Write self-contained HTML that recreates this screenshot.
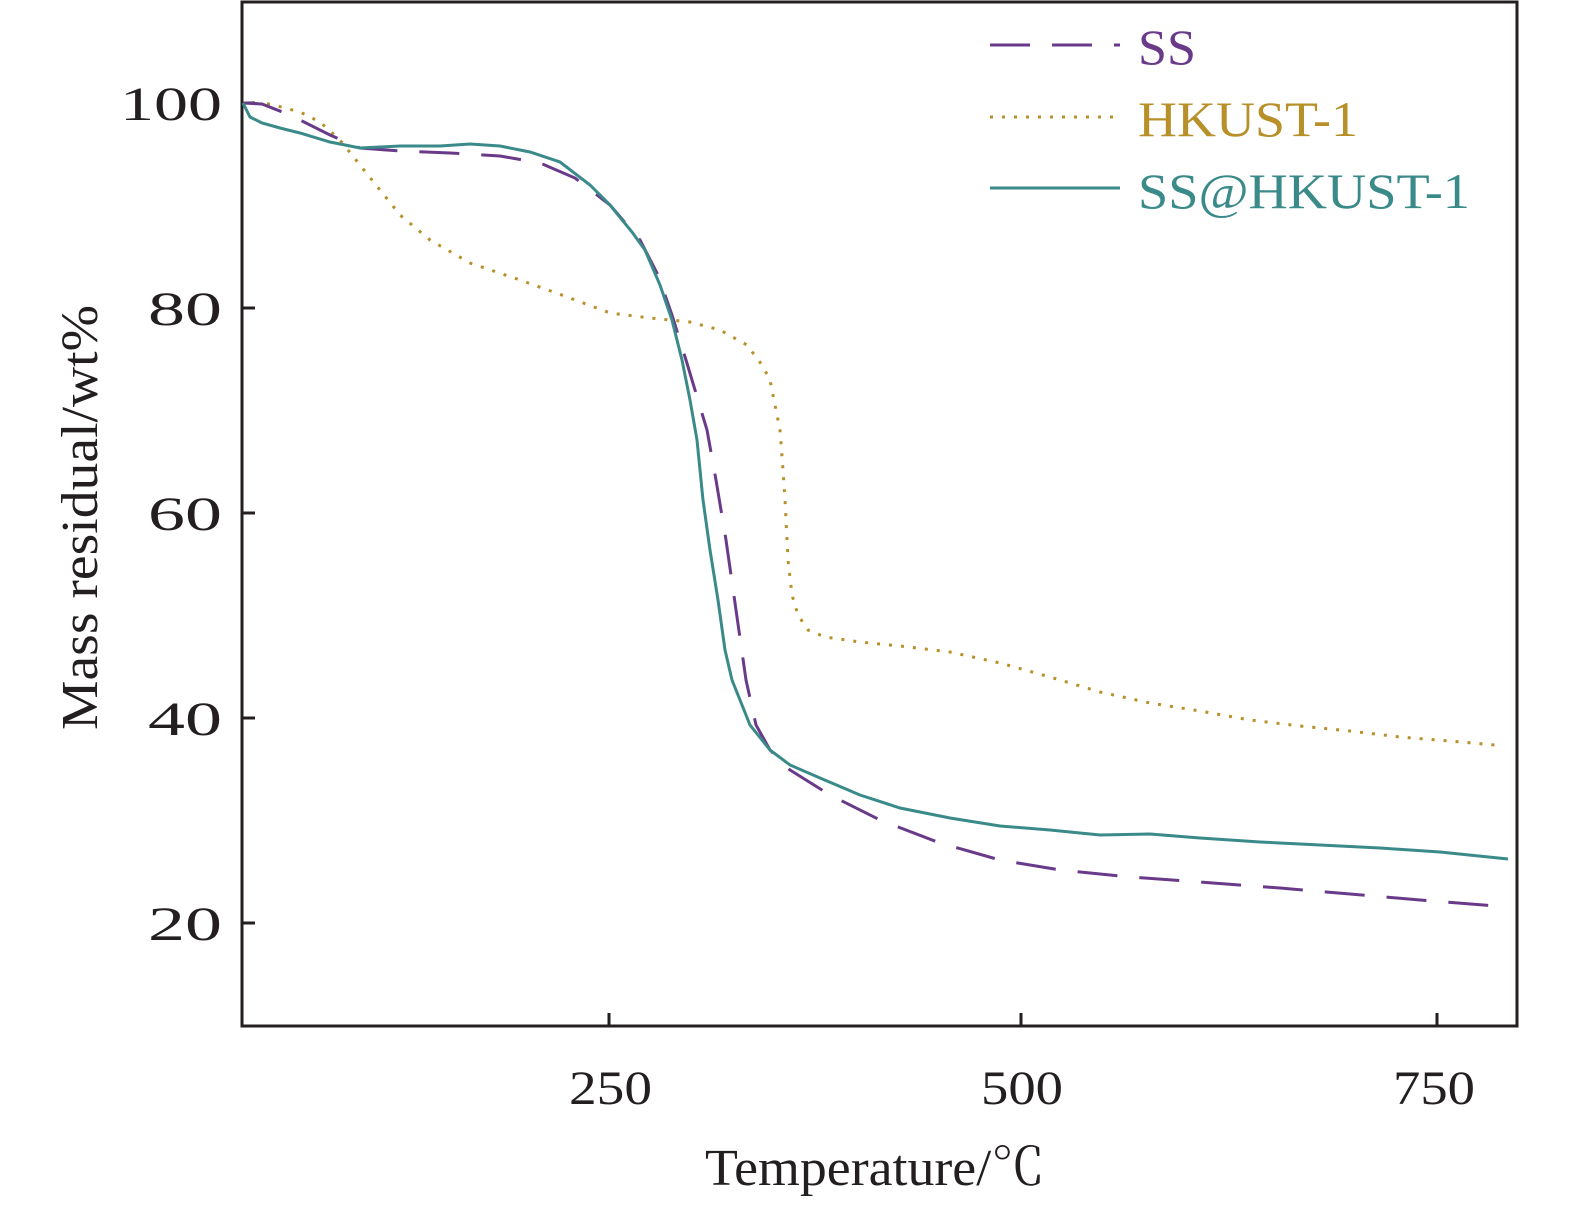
<!DOCTYPE html>
<html><head><meta charset="utf-8"><style>
html,body{margin:0;padding:0;background:#fff;}
svg text{font-family:"Liberation Serif","Noto Serif CJK SC",serif;}
</style></head><body>
<svg width="1575" height="1208" viewBox="0 0 1575 1208" xmlns="http://www.w3.org/2000/svg">
<rect x="242" y="2" width="1275" height="1024" fill="none" stroke="#231f20" stroke-width="3"/>
<g stroke="#231f20" stroke-width="3">
<line x1="609" y1="1026" x2="609" y2="1013"/>
<line x1="1021" y1="1026" x2="1021" y2="1013"/>
<line x1="1437" y1="1026" x2="1437" y2="1013"/>
<line x1="242" y1="103" x2="255" y2="103"/>
<line x1="242" y1="308" x2="255" y2="308"/>
<line x1="242" y1="513" x2="255" y2="513"/>
<line x1="242" y1="718" x2="255" y2="718"/>
<line x1="242" y1="923" x2="255" y2="923"/>
</g>
<g font-size="48" fill="#231f20" lengthAdjust="spacingAndGlyphs">
<text x="120" y="120" textLength="102" lengthAdjust="spacingAndGlyphs">100</text>
<text x="148" y="325" textLength="74" lengthAdjust="spacingAndGlyphs">80</text>
<text x="148" y="530" textLength="74" lengthAdjust="spacingAndGlyphs">60</text>
<text x="148" y="735" textLength="74" lengthAdjust="spacingAndGlyphs">40</text>
<text x="148" y="940" textLength="74" lengthAdjust="spacingAndGlyphs">20</text>
<text x="569" y="1104" textLength="83" lengthAdjust="spacingAndGlyphs">250</text>
<text x="981" y="1104" textLength="82" lengthAdjust="spacingAndGlyphs">500</text>
<text x="1393" y="1104" textLength="82" lengthAdjust="spacingAndGlyphs">750</text>
</g>
<text x="705" y="1185" font-size="52" fill="#231f20" textLength="340" lengthAdjust="spacingAndGlyphs">Temperature/℃</text>
<text transform="translate(97,730) rotate(-90)" font-size="52" fill="#231f20" textLength="425" lengthAdjust="spacingAndGlyphs">Mass residual/wt%</text>

<polyline fill="none" stroke="#b8902a" stroke-width="3" stroke-dasharray="3,9" points="243,103 270,104 300,112 320,122 340,140 360,165 380,190 400,215 430,240 470,263 520,280 570,298 610,313 650,318 690,322 720,330 747,345 762,365 770,380 776,410 780,430 783,470 785,500 788,560 792,595 798,615 808,630 825,637 860,642 900,646 950,652 1000,663 1050,677 1100,692 1150,703 1200,711 1250,720 1300,726 1350,731 1400,737 1450,741 1495,745"/>
<polyline fill="none" stroke="#6a3a8a" stroke-width="3" stroke-dasharray="40,22" points="243,103 262,104 290,115 330,135 360,148 400,151 450,153 500,156 540,163 575,178 610,205 640,240 658,275 672,315 686,360 698,400 707,430 716,480 726,540 736,610 746,680 756,725 770,750 790,770 830,795 880,820 940,843 1000,860 1060,870 1130,877 1200,882 1280,888 1350,894 1420,900 1508,907"/>
<polyline fill="none" stroke="#3a8a8a" stroke-width="3" points="243,103 250,117 262,123 280,128 300,133 330,142 360,148 400,146 440,146 470,144 500,146 530,152 560,162 590,185 610,205 632,232 645,250 660,285 672,320 682,360 690,400 697,440 703,500 710,550 718,600 725,650 732,680 740,700 750,725 770,750 790,765 820,778 860,795 900,808 950,818 1000,826 1050,830 1100,835 1150,834 1200,838 1260,842 1320,845 1380,848 1440,852 1508,859"/>

<line x1="990" y1="45" x2="1120" y2="45" stroke="#6a3a8a" stroke-width="3" stroke-dasharray="40,22"/>
<line x1="990" y1="117" x2="1120" y2="117" stroke="#b8902a" stroke-width="3" stroke-dasharray="3,9"/>
<line x1="990" y1="188" x2="1120" y2="188" stroke="#3a8a8a" stroke-width="3"/>
<text x="1138" y="64" font-size="50" fill="#6a3a8a" textLength="58" lengthAdjust="spacingAndGlyphs">SS</text>
<text x="1138" y="136" font-size="50" fill="#b8902a" textLength="220" lengthAdjust="spacingAndGlyphs">HKUST-1</text>
<text x="1138" y="208" font-size="50" fill="#3a8a8a" textLength="332" lengthAdjust="spacingAndGlyphs">SS@HKUST-1</text>
</svg>
</body></html>
